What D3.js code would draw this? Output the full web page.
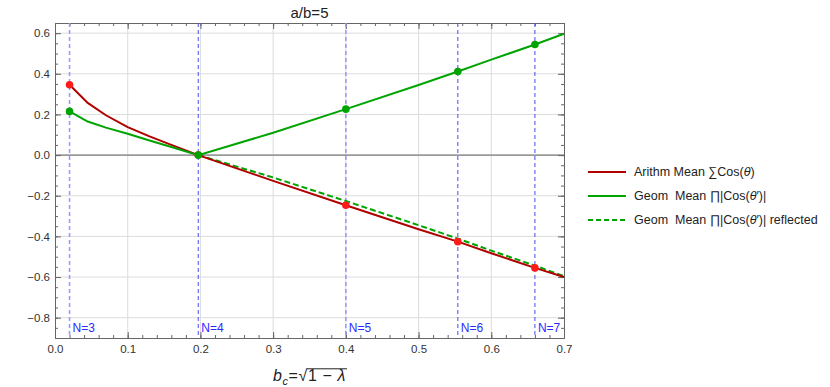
<!DOCTYPE html>
<html>
<head>
<meta charset="utf-8">
<script src="https://cdn.jsdelivr.net/npm/d3@7"></script>
<style>
  body { margin: 0; background: #fff; }
  svg { font-family: "Liberation Sans", Arial, sans-serif; }
</style>
</head>
<body>
<div id="chart"></div>
<script>
// values
const bcLeft = [0.02, 0.045, 0.07, 0.1, 0.13, 0.16, 0.197];
const arithLeft = [0.346, 0.257, 0.196, 0.138, 0.092, 0.05, 0];
const geomLeft = [0.215, 0.165, 0.135, 0.105, 0.072, 0.04, 0];

const bcRight = [0.197, 0.3, 0.4, 0.5, 0.554, 0.6, 0.66, 0.7];
const arithRight = [0, -0.127, -0.247, -0.365, -0.426, -0.483, -0.555, -0.6];
const geomRight = [0, 0.11, 0.226, 0.345, 0.411, 0.47, 0.544, 0.597];
const geomReflected = [0, -0.11, -0.226, -0.345, -0.411, -0.47, -0.544, -0.596];

const nLabels = ['N=3', 'N=4', 'N=5', 'N=6', 'N=7'];
const nBc = [0.02, 0.197, 0.4, 0.554, 0.66];
const arithAtN = [0.346, 0, -0.247, -0.426, -0.555];
const geomAtN = [0.215, 0, 0.226, 0.411, 0.544];

const xMajor = [0, 0.1, 0.2, 0.3, 0.4, 0.5, 0.6, 0.7];
const yMajor = [-0.8, -0.6, -0.4, -0.2, 0, 0.2, 0.4, 0.6];

const legendItems = ['Arithm Mean ∑Cos(θ)', 'Geom  Mean ∏|Cos(θ′)|', 'Geom  Mean ∏|Cos(θ′)| reflected'];

const width = 830, height = 387;
const margin = { top: 23, right: 266, bottom: 49, left: 55 };
const w = width - margin.left - margin.right;
const h = height - margin.top - margin.bottom;

const red = '#b00000', redPt = '#ff1a1a', green = '#00a400';

const svg = d3.select('#chart').append('svg')
  .attr('width', width)
  .attr('height', height);

const g = svg.append('g')
  .attr('transform', `translate(${margin.left},${margin.top})`);

const x = d3.scaleLinear().domain([0, 0.7]).range([0, w]);
const y = d3.scaleLinear().domain([-0.9, 0.65]).range([h, 0]);

const xMinor = d3.range(0, 0.7001, 0.02);
const yMinor = d3.range(-0.9, 0.6501, 0.05);

// grid
g.append('g').selectAll('line')
  .data(xMajor.slice(1, -1))
  .join('line')
  .attr('x1', d => x(d)).attr('x2', d => x(d))
  .attr('y1', 0).attr('y2', h)
  .attr('stroke', '#dcdcdc');

g.append('g').selectAll('line')
  .data(yMajor.filter(d => d !== 0))
  .join('line')
  .attr('x1', 0).attr('x2', w)
  .attr('y1', d => y(d)).attr('y2', d => y(d))
  .attr('stroke', '#dcdcdc');

g.append('line')
  .attr('x1', 0).attr('x2', w)
  .attr('y1', y(0)).attr('y2', y(0))
  .attr('stroke', '#9a9a9a')
  .attr('stroke-width', 1.6);

// frame + ticks
const frameColor = '#666';
function styleAxis(sel) {
  sel.selectAll('path.domain').attr('stroke', frameColor);
  sel.selectAll('.tick line').attr('stroke', frameColor);
  sel.selectAll('.tick text').attr('fill', '#333').style('font-size', '11.5px');
}

g.append('g').attr('transform', `translate(0,${h})`)
  .call(d3.axisBottom(x).tickValues(xMinor).tickSize(-3).tickSizeOuter(0).tickFormat(''))
  .call(styleAxis);
g.append('g').attr('transform', `translate(0,${h})`)
  .call(d3.axisBottom(x).tickValues(xMajor).tickSize(-6).tickSizeOuter(0).tickPadding(7).tickFormat(d3.format('.1f')))
  .call(styleAxis);
g.append('g')
  .call(d3.axisTop(x).tickValues(xMinor).tickSize(-3).tickSizeOuter(0).tickFormat(''))
  .call(styleAxis);
g.append('g')
  .call(d3.axisTop(x).tickValues(xMajor).tickSize(-6).tickSizeOuter(0).tickFormat(''))
  .call(styleAxis);

g.append('g')
  .call(d3.axisLeft(y).tickValues(yMinor).tickSize(-3).tickSizeOuter(0).tickFormat(''))
  .call(styleAxis);
g.append('g')
  .call(d3.axisLeft(y).tickValues(yMajor).tickSize(-6).tickSizeOuter(0).tickPadding(5).tickFormat(d3.format('.1f')))
  .call(styleAxis);
g.append('g').attr('transform', `translate(${w},0)`)
  .call(d3.axisRight(y).tickValues(yMinor).tickSize(-3).tickSizeOuter(0).tickFormat(''))
  .call(styleAxis);
g.append('g').attr('transform', `translate(${w},0)`)
  .call(d3.axisRight(y).tickValues(yMajor).tickSize(-6).tickSizeOuter(0).tickFormat(''))
  .call(styleAxis);

// N marker lines
g.append('g').selectAll('line')
  .data(nBc)
  .join('line')
  .attr('x1', d => x(d)).attr('x2', d => x(d))
  .attr('y1', 0).attr('y2', h)
  .attr('stroke', (d, i) => i % 2 === 0 && i < 4 ? '#9a9aff' : '#4a4af0')
  .attr('stroke-width', (d, i) => i % 2 === 0 && i < 4 ? 1.6 : 1)
  .attr('stroke-dasharray', '4,3');

g.append('g').selectAll('text')
  .data(nLabels)
  .join('text')
  .attr('x', (d, i) => x(nBc[i]) + 3)
  .attr('y', h - 6)
  .attr('fill', '#2a2aff')
  .style('font-size', '12px')
  .text(d => d);

// curves
const line = d3.line()
  .x(d => x(d[0]))
  .y(d => y(d[1]));

const zip = (a, b) => a.map((v, i) => [v, b[i]]);

g.append('path')
  .datum(zip(bcRight, geomReflected))
  .attr('fill', 'none')
  .attr('stroke', green)
  .attr('stroke-width', 2)
  .attr('stroke-dasharray', '6,3')
  .attr('d', line);

g.append('path')
  .datum(zip(bcLeft, arithLeft).concat(zip(bcRight.slice(1), arithRight.slice(1))))
  .attr('fill', 'none')
  .attr('stroke', red)
  .attr('stroke-width', 2)
  .attr('d', line);

g.append('path')
  .datum(zip(bcLeft, geomLeft).concat(zip(bcRight.slice(1), geomRight.slice(1))))
  .attr('fill', 'none')
  .attr('stroke', green)
  .attr('stroke-width', 2)
  .attr('d', line);

g.append('g').selectAll('circle')
  .data(zip(nBc, arithAtN))
  .join('circle')
  .attr('cx', d => x(d[0]))
  .attr('cy', d => y(d[1]))
  .attr('r', 3.8)
  .attr('fill', redPt);

g.append('g').selectAll('circle')
  .data(zip(nBc, geomAtN))
  .join('circle')
  .attr('cx', d => x(d[0]))
  .attr('cy', d => y(d[1]))
  .attr('r', 3.8)
  .attr('fill', green);

// title
svg.append('text')
  .attr('x', margin.left + w / 2)
  .attr('y', 18)
  .attr('text-anchor', 'middle')
  .style('font-size', '15px')
  .attr('fill', '#222')
  .text('a/b=5');

// x label  b_c = sqrt(1 - λ)
const xl = svg.append('text')
  .attr('x', margin.left + w / 2)
  .attr('y', 381)
  .attr('text-anchor', 'middle')
  .attr('fill', '#222')
  .style('font-size', '16px')
  .style('letter-spacing', '0.6px');
xl.append('tspan').style('font-style', 'italic').text('b');
xl.append('tspan').style('font-style', 'italic').style('font-size', '11px').attr('dy', 4).text('c');
xl.append('tspan').attr('dy', -4).text('=');
xl.append('tspan').text('√');
xl.append('tspan').text('1 − ');
xl.append('tspan').style('font-style', 'italic').text('λ');

const node = xl.node();
const full = node.textContent;
const sqrtIdx = full.indexOf('√');
const sq = node.getExtentOfChar(sqrtIdx);
const endPos = node.getEndPositionOfChar(full.length - 1);
svg.append('line')
  .attr('x1', sq.x + sq.width - 1.2)
  .attr('x2', endPos.x + 1)
  .attr('y1', sq.y + 1.8)
  .attr('y2', sq.y + 1.8)
  .attr('stroke', '#222')
  .attr('stroke-width', 1);

// legend
const legend = svg.append('g').attr('transform', 'translate(588,172)');
legendItems.forEach((label, i) => {
  const row = legend.append('g').attr('transform', `translate(0,${i * 24})`);
  row.append('line')
    .attr('x1', 0).attr('x2', 38)
    .attr('stroke', i === 0 ? red : green)
    .attr('stroke-width', 2)
    .attr('stroke-dasharray', i === 2 ? '5,3' : null);
  const txt = row.append('text')
    .attr('x', 46)
    .attr('dy', '0.35em')
    .attr('fill', '#222')
    .style('font-size', '12.5px')
    .style('white-space', 'pre');
  // theta drawn in italics
  label.split(/(θ)/).forEach(part => {
    if (!part) return;
    txt.append('tspan')
      .style('font-style', part === 'θ' ? 'italic' : null)
      .text(part);
  });
});
</script>
</body>
</html>
